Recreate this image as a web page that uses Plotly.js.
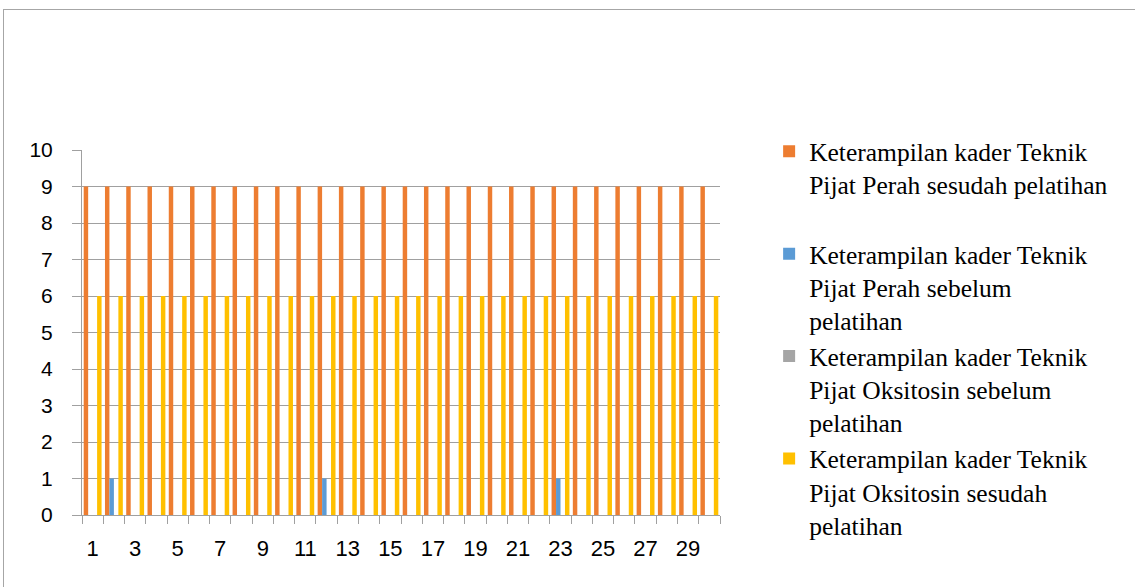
<!DOCTYPE html>
<html>
<head>
<meta charset="utf-8">
<script src="https://cdn.plot.ly/plotly-3.0.1.min.js"></script>
<style>
html,body{margin:0;padding:0;background:#fff;}
#chart{position:absolute;left:0;top:0;width:1135px;height:587px;}
#frame{position:absolute;left:3px;top:9px;width:1140px;height:600px;border-top:1px solid #a6a6a6;border-left:1px solid #a6a6a6;pointer-events:none;}
</style>
</head>
<body>
<div id="chart"></div>
<div id="frame"></div>
<script>
const categories = [1,2,3,4,5,6,7,8,9,10,11,12,13,14,15,16,17,18,19,20,21,22,23,24,25,26,27,28,29,30];
const tickLabels = ["1","3","5","7","9","11","13","15","17","19","21","23","25","27","29"];
const tickPositions = [1,3,5,7,9,11,13,15,17,19,21,23,25,27,29];
const seriesNames = [
  "Keterampilan kader Teknik<br>Pijat Perah sesudah pelatihan<br> ",
  "Keterampilan kader Teknik<br>Pijat Perah sebelum<br>pelatihan",
  "Keterampilan kader Teknik<br>Pijat Oksitosin sebelum<br>pelatihan",
  "Keterampilan kader Teknik<br>Pijat Oksitosin sesudah<br>pelatihan"
];
const perahSesudah = [9,9,9,9,9,9,9,9,9,9,9,9,9,9,9,9,9,9,9,9,9,9,9,9,9,9,9,9,9,9];
const perahSebelum = [0,1,0,0,0,0,0,0,0,0,0,1,0,0,0,0,0,0,0,0,0,0,1,0,0,0,0,0,0,0];
const oksitosinSebelum = [0,0,0,0,0,0,0,0,0,0,0,0,0,0,0,0,0,0,0,0,0,0,0,0,0,0,0,0,0,0];
const oksitosinSesudah = [6,6,6,6,6,6,6,6,6,6,6,6,6,6,6,6,6,6,6,6,6,6,6,6,6,6,6,6,6,6];
const colors = ["#ED7D31","#5B9BD5","#A5A5A5","#FFC000"];
const allSeries = [perahSesudah, perahSebelum, oksitosinSebelum, oksitosinSesudah];

const traces = allSeries.map((vals, i) => ({
  type: "bar",
  x: categories,
  y: vals,
  name: seriesNames[i],
  marker: {color: colors[i], line: {width: 0}},
  hoverinfo: "x+y"
}));

const layout = {
  width: 1135,
  height: 587,
  margin: {l: 82, r: 415, t: 150, b: 72},
  paper_bgcolor: "#ffffff",
  plot_bgcolor: "#ffffff",
  barmode: "group",
  bargap: 0.16,
  bargroupgap: 0,
  showlegend: true,
  font: {family: "Liberation Sans, Arial, sans-serif", size: 20, color: "#000"},
  xaxis: {
    range: [0.5, 30.5],
    tickmode: "array",
    tickvals: tickPositions,
    ticktext: tickLabels,
    ticks: "",
    showgrid: false,
    zeroline: false,
    showline: true,
    linecolor: "#a0a0a0",
    linewidth: 1,
    tickfont: {family: "Liberation Sans, Arial, sans-serif", size: 22, color: "#000"},
    ticklabelstandoff: 14,
    minor: {ticks: "outside", tick0: 0.5, dtick: 1, ticklen: 8, tickcolor: "#a0a0a0", tickwidth: 1, showgrid: false},
    fixedrange: true
  },
  yaxis: {
    range: [0, 10],
    dtick: 1,
    tick0: 0,
    ticks: "outside",
    ticklen: 9,
    tickcolor: "#a0a0a0",
    showgrid: true,
    gridcolor: "#a0a0a0",
    gridwidth: 1,
    zeroline: false,
    showline: true,
    linecolor: "#a0a0a0",
    linewidth: 1,
    tickfont: {family: "Liberation Sans, Arial, sans-serif", size: 21, color: "#000"},
    ticklabelstandoff: 15,
    fixedrange: true
  },
  legend: {
    x: 1.077,
    xanchor: "left",
    y: 1.06,
    yanchor: "top",
    valign: "top",
    maxheight: 560,
    bgcolor: "rgba(0,0,0,0)",
    font: {family: "Liberation Serif, Times New Roman, serif", size: 25.5, color: "#000"},
    itemwidth: 30,
    tracegroupgap: 0,
    traceorder: "normal"
  }
};

Plotly.newPlot("chart", traces, layout, {displayModeBar: false, staticPlot: true});
</script>
</body>
</html>
